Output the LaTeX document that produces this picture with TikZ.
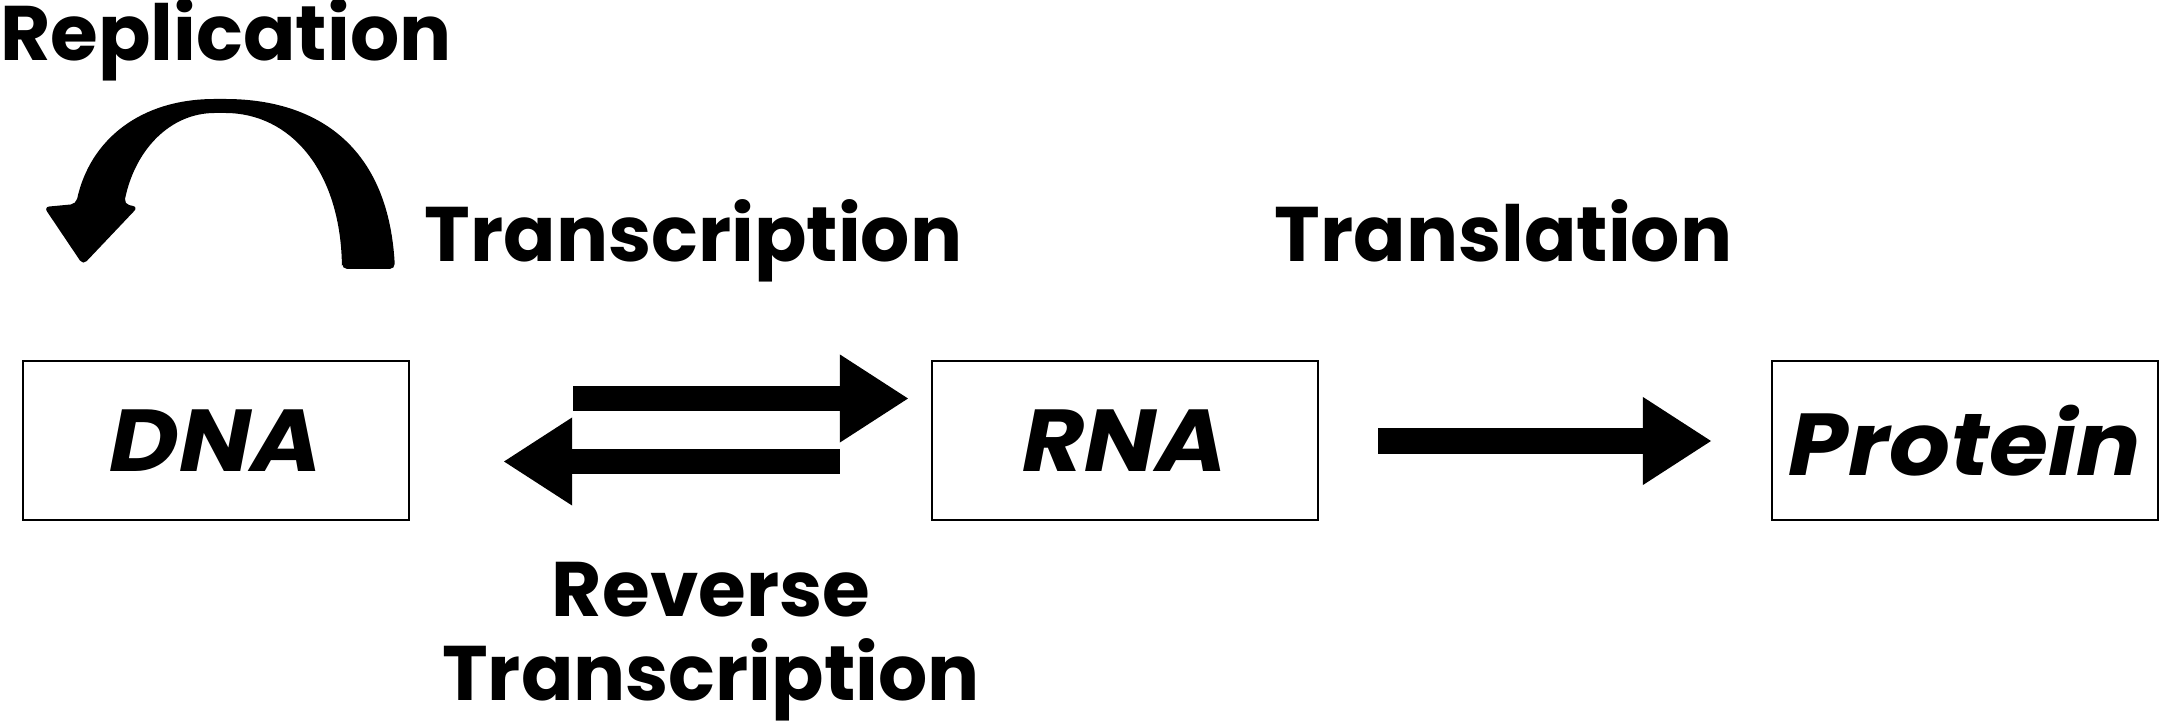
\documentclass[tikz,border=0pt]{standalone}
\usepackage{fontspec}
\setmainfont{Poppins}
\newfontfamily\molfont{Poppins}[FakeStretch=1.09]
\usetikzlibrary{arrows.meta,calc}
\tikzset{
  molbox/.style={draw,line width=.6pt,minimum width=3.86cm,minimum height=1.59cm,inner sep=0,font=\molfont\fontsize{25}{28}\selectfont\bfseries\itshape},
  steplabel/.style={anchor=base,inner sep=0,font=\fontsize{22}{23.8}\selectfont\bfseries,align=center},
  fatarrow/.style={line width=.25cm,-{Triangle[length=.69cm,width=.83cm]}}
}
\begin{document}
\begin{tikzpicture}[x=.01cm,y=-.01cm]
    \useasboundingbox(0,0)rectangle(2161,728);
    \node[molbox](dna)at(216,440.5){DNA};
    \node[molbox](rna)at(1125,440.5){RNA};
    \node[molbox](protein)at(1965,440.5){Protein};
    % transcription and reverse transcription
    \coordinate(ts)at($(dna.east)+(163,-42)$);
    \coordinate(te)at($(rna.west)+(-22,-42)$);
    \coordinate(rs)at($(rna.west)+(-91,21)$);
    \coordinate(re)at($(dna.east)+(93,21)$);
    \draw[fatarrow](ts)--(te);
    \draw[fatarrow](rs)--(re);
    % translation
    \coordinate(ls)at($(rna.east)+(59,0.5)$);
    \coordinate(le)at($(protein.west)+(-59,0.5)$);
    \draw[fatarrow](ls)--(le);
    % replication
    \fill[rounded corners=1.5pt](342,269)--(395,269)..controls(388,140)and(310,99)..(220,99)
        ..controls(140,99)and(90,140)..(76,204)--(44,207)--(83,265)--(138,207)--(124,204)
        ..controls(135,150)and(170,113)..(220,113)..controls(290,113)and(340,170)..(342,269)--cycle;
    \node[steplabel](replication)at(226,61){Replication};
    \node[steplabel](transcription)at(693.5,262){Transcription};
    \node[steplabel](translation)at(1503.5,262){Translation};
    \node[steplabel](reverse)at(711,700){Reverse\\Transcription};
\end{tikzpicture}
\end{document}
